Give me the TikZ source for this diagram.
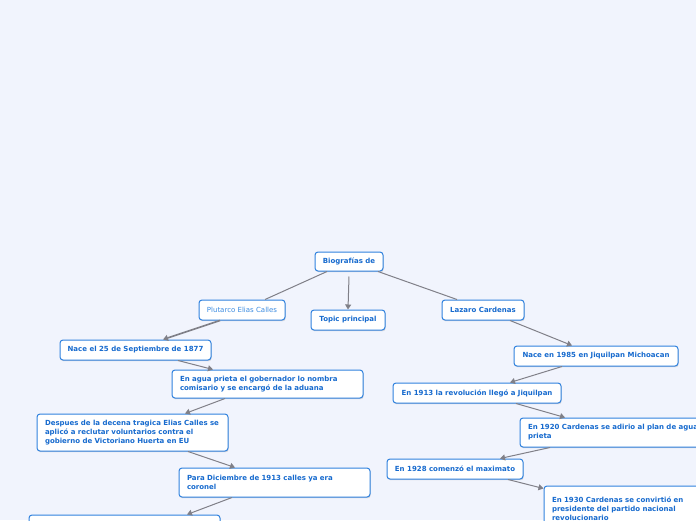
\documentclass[tikz,border=0pt]{standalone}
\usepackage{fontspec}
\setmainfont{DejaVu Sans}
\usetikzlibrary{arrows.meta,shadows}
\definecolor{bgcol}{RGB}{241,244,253}
\definecolor{boxblue}{RGB}{48,130,222}
\definecolor{txtblue}{RGB}{22,106,206}
\definecolor{lightblue}{RGB}{60,140,225}
\definecolor{edgecol}{RGB}{128,128,136}
\tikzset{
  box/.style={draw=boxblue, fill=white, rounded corners=3pt, line width=1pt,
    font=\fontsize{7}{9}\selectfont\bfseries, text=txtblue, align=left,
    inner xsep=8pt, inner ysep=0pt,
    drop shadow={shadow xshift=0.6pt, shadow yshift=-1.2pt, opacity=0.3, fill=gray}},
  onebox/.style={box, align=center, inner xsep=1pt},
  link/.style={draw=edgecol, line width=1pt},
  arr/.style={link, -{Triangle[width=6pt,length=5pt]}}
}
\begin{document}
\begin{tikzpicture}[x=1pt,y=-1pt]
\clip (0,0) rectangle (696,520);
\fill[bgcol] (0,0) rectangle (696,520);
% nodes
\node[onebox, minimum width=68pt, minimum height=19pt] (bio) at (349,261.5) {Biografías de};
\node[onebox, minimum width=86pt, minimum height=20pt, font=\fontsize{7}{9}\selectfont, text=lightblue] (plut) at (242,310) {Plutarco Elias Calles};
\node[onebox, minimum width=74pt, minimum height=20pt] (topic) at (348,320) {Topic principal};
\node[onebox, minimum width=82pt, minimum height=20pt] (laz) at (483,310) {Lazaro Cardenas};
\node[onebox, minimum width=151pt, minimum height=20pt] (nace1) at (135.5,350) {Nace el 25 de Septiembre de 1877};
\node[box, text width=175pt, minimum height=28pt] (agua) at (267.5,384) {En agua prieta el gobernador lo nombra\\comisario y se encargó de la aduana};
\node[box, text width=175pt, minimum height=37pt] (desp) at (132.5,432.5) {Despues de la decena tragica Elias Calles se\\aplicó a reclutar voluntarios contra el\\gobierno de Victoriano Huerta en EU};
\node[box, text width=175pt, minimum height=29pt] (para) at (274.5,482.5) {Para Diciembre de 1913 calles ya era\\coronel};
\node[box, text width=175pt, minimum height=36pt] (bot) at (124.5,533) {};
\node[onebox, minimum width=164pt, minimum height=20pt] (n85) at (596,356) {Nace en 1985 en Jiquilpan Michoacan};
\node[onebox, minimum width=168pt, minimum height=20pt] (e13) at (477,393) {En 1913 la revolución llegó a Jiquilpan};
\node[box, text width=175pt, minimum height=29pt] (e20) at (615.5,432.5) {En 1920 Cardenas se adirio al plan de agua\\prieta};
\node[onebox, minimum width=136pt, minimum height=20pt] (e28) at (455,469) {En 1928 comenzó el maximato};
\node[box, text width=175pt, minimum height=46pt] (e30) at (639.5,509) {En 1930 Cardenas se convirtió en\\presidente del partido nacional\\revolucionario};
% connectors
\draw[link] ([xshift=-22pt]bio.south) -- ([xshift=23pt]plut.north);
\draw[arr] ([yshift=-5pt]bio.south) -- (topic.north);
\draw[link] ([xshift=29pt]bio.south) -- ([xshift=-26pt]laz.north);
\draw[arr, line width=1.6pt] ([xshift=-22pt]plut.south) -- ([xshift=27.5pt]nace1.north);
\draw[arr] ([xshift=42.5pt]nace1.south) -- ([xshift=-54.5pt]agua.north);
\draw[arr] ([xshift=-42.5pt]agua.south) -- ([xshift=52.5pt]desp.north);
\draw[arr] ([xshift=55.5pt]desp.south) -- ([xshift=-39.5pt]para.north);
\draw[arr] ([xshift=-42.5pt]para.south) -- ([xshift=62.5pt]bot.north);
\draw[arr] ([xshift=27pt]laz.south) -- ([xshift=-24pt]n85.north);
\draw[arr] ([xshift=-34pt]n85.south) -- ([xshift=33pt]e13.north);
\draw[arr] ([xshift=39pt]e13.south) -- ([xshift=-50.5pt]e20.north);
\draw[arr] ([xshift=-65.5pt]e20.south) -- ([xshift=45pt]e28.north);
\draw[arr] ([xshift=53pt]e28.south) -- ([yshift=-3pt]e30.north west);
\end{tikzpicture}
\end{document}
